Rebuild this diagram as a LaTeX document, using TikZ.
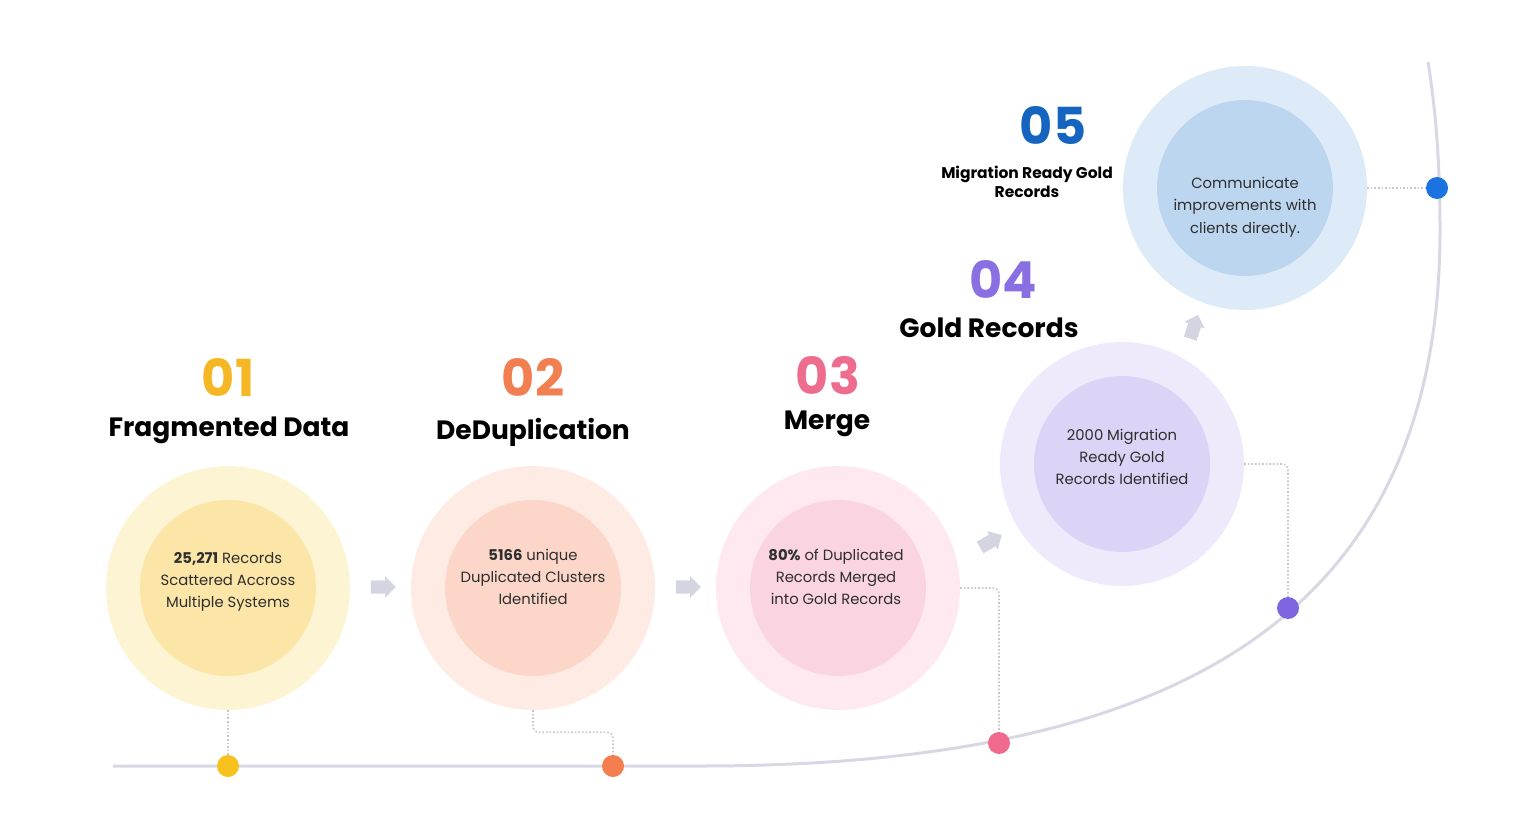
\documentclass[tikz,border=0pt]{standalone}
\usepackage{fontspec}
\setmainfont{Poppins}
\usetikzlibrary{shapes.arrows}
\definecolor{yo}{HTML}{FDF4D4}\definecolor{yi}{HTML}{FBE6A8}\definecolor{yd}{HTML}{F7C21E}\definecolor{yn}{HTML}{F5B724}
\definecolor{oo}{HTML}{FDEBE4}\definecolor{oi}{HTML}{FBD6C9}\definecolor{od}{HTML}{F47E4E}\definecolor{on}{HTML}{F27F52}
\definecolor{po}{HTML}{FDE9EF}\definecolor{pi}{HTML}{FAD4E0}\definecolor{pd}{HTML}{F06A8E}\definecolor{pn}{HTML}{EE6D8F}
\definecolor{vo}{HTML}{EEEAFB}\definecolor{vi}{HTML}{DCD4F6}\definecolor{vd}{HTML}{7E66E0}\definecolor{vn}{HTML}{8A6FE2}
\definecolor{bo}{HTML}{DDEAF8}\definecolor{bi}{HTML}{BDD6F0}\definecolor{bd}{HTML}{1A73E0}\definecolor{bn}{HTML}{1565C0}
\definecolor{track}{HTML}{D8D8E4}\definecolor{dotc}{HTML}{C6C6D0}\definecolor{arr}{HTML}{D5D5E2}\definecolor{txt}{HTML}{2E2E2E}
\tikzset{
  outer/.style={circle,minimum size=244pt,inner sep=0pt},
  innerc/.style={circle,minimum size=176pt,inner sep=0pt},
  body/.style={align=center,inner sep=0pt,text=txt,font=\fontsize{14.8}{22.3}\selectfont},
  numlbl/.style={font=\fontsize{51}{51}\selectfont\bfseries,inner sep=0pt,anchor=base},
  ttl/.style={font=\fontsize{26.5}{30}\selectfont\bfseries,inner sep=0pt,text=black,anchor=base},
  dotn/.style={circle,minimum size=22pt,inner sep=0pt},
  conn/.style={dotc,line width=1.6pt,dotted,rounded corners=6pt},
  garrow/.style={single arrow,fill=arr,minimum height=25pt,inner xsep=0pt,inner ysep=6.5pt,single arrow head extend=4pt,anchor=center},
}
\begin{document}
\begin{tikzpicture}[x=1pt,y=-1pt]
\useasboundingbox (0,0) rectangle (1522,818);
% track
\draw[track,line width=3pt] (113,766) -- (700,766) .. controls (1200,766) and (1440,600) .. (1440,230) .. controls (1440,150) and (1434,100) .. (1428,62);
% circles
\node[outer,fill=yo] (c1) at (228,588) {};
\node[innerc,fill=yi] (in1) at (228,588) {};
\node[body] (b1) at (228,582) {\textbf{25,271} Records\\Scattered Accross\\Multiple Systems};
\node[outer,fill=oo] (c2) at (533,588) {};
\node[innerc,fill=oi] (in2) at (533,588) {};
\node[body] (b2) at (533,577) {\textbf{5166} unique\\Duplicated Clusters\\Identified};
\node[outer,fill=po] (c3) at (838,588) {};
\node[innerc,fill=pi] (in3) at (838,588) {};
\node[body] (b3) at (836,577) {\textbf{80\%} of Duplicated\\Records Merged\\into Gold Records};
\node[outer,fill=vo] (c4) at (1122,464) {};
\node[innerc,fill=vi] (in4) at (1122,464) {};
\node[body] (b4) at (1122,457) {2000 Migration\\Ready Gold\\Records Identified};
\node[outer,fill=bo] (c5) at (1245,188) {};
\node[innerc,fill=bi] (in5) at (1245,188) {};
\node[body] (b5) at (1245,207) {Communicate\\improvements with\\clients directly.};
% numbers and titles
\node[numlbl,text=yn] (n1) at (228,396) {01};
\node[ttl] (t1) at (229,436) {Fragmented Data};
\node[numlbl,text=on] (n2) at (533,396) {02};
\node[ttl] (t2) at (533,439) {DeDuplication};
\node[numlbl,text=pn] (n3) at (828,394) {03};
\node[ttl] (t3) at (827,429) {Merge};
\node[numlbl,text=vn] (n4) at (1003,298) {04};
\node[ttl] (t4) at (989,337) {Gold Records};
\node[numlbl,text=bn] (n5) at (1053,145) {05};
\node[font=\fontsize{15.5}{18.5}\selectfont\bfseries,align=center,inner sep=0pt] (t5) at (1027,182) {Migration Ready Gold\\Records};
% dots
\node[dotn,fill=yd] (d1) at (228,766) {};
\node[dotn,fill=od] (d2) at (613,766) {};
\node[dotn,fill=pd] (d3) at (999,743) {};
\node[dotn,fill=vd] (d4) at (1288,608) {};
\node[dotn,fill=bd] (d5) at (1437,188) {};
% connectors
\draw[conn] (c1.south) -- (d1.north);
\draw[conn] (c2.south) -- ++(0,22) -| (d2.north);
\draw[conn] (c3.east) -| (d3.north);
\draw[conn] (c4.east) -| (d4.north);
\draw[conn] (c5.east) -- (d5.west);
% arrows
\node[garrow] (a1) at (380,587) {};
\node[garrow] (a2) at (685,587) {};
\node[garrow,rotate=30] (a3) at (988,543) {};
\node[garrow,rotate=72] (a4) at (1193,330) {};
\end{tikzpicture}
\end{document}
